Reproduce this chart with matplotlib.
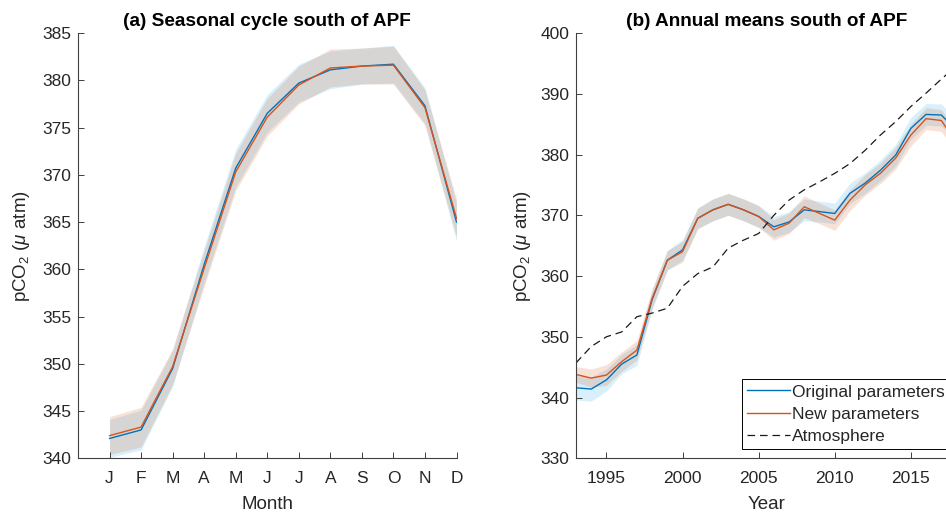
import matplotlib
matplotlib.use("Agg")
import matplotlib.pyplot as plt
import numpy as np

plt.rcParams['font.family'] = ['Liberation Sans', 'DejaVu Sans']
plt.rcParams['mathtext.fontset'] = 'custom'
plt.rcParams['mathtext.rm'] = 'Liberation Sans'
plt.rcParams['mathtext.it'] = 'Liberation Sans:italic'
plt.rcParams['lines.scale_dashes'] = False

# ---- Data: seasonal cycle ----
months = [1, 2, 3, 4, 5, 6, 7, 8, 9, 10, 11, 12]
month_labels = ['J', 'F', 'M', 'A', 'M', 'J', 'J', 'A', 'S', 'O', 'N', 'D']
seas_orig = [342.1, 343.0, 349.5, 360.5, 370.7, 376.5, 379.7, 381.1, 381.5, 381.7, 377.3, 365.0]
seas_orig_sd = [2.0, 2.1, 1.9, 1.9, 2.0, 2.0, 2.0, 2.0, 1.9, 2.0, 1.9, 2.0]
seas_new = [342.4, 343.3, 349.7, 360.1, 370.3, 376.1, 379.5, 381.3, 381.5, 381.6, 377.1, 365.4]
seas_new_sd = [2.0, 2.1, 1.9, 1.9, 2.0, 2.0, 2.0, 2.0, 1.9, 2.0, 1.9, 2.0]

# ---- Data: annual means ----
years = list(range(1993, 2019))
ann_orig = [341.6, 341.4, 342.9, 345.5, 347.0, 356.1, 362.6, 364.3, 369.5, 370.9,
            371.8, 370.9, 369.8, 368.1, 368.9, 370.9, 370.6, 370.3, 373.6, 375.3,
            377.4, 379.9, 384.3, 386.6, 386.5, 384.0]
ann_orig_sd = [2.0, 2.0, 1.8, 1.6, 1.7, 1.6, 1.6, 1.7, 1.7, 1.8,
               1.8, 1.8, 1.8, 1.7, 1.7, 1.8, 1.7, 1.7, 1.7, 1.7,
               1.7, 1.8, 1.8, 1.8, 1.8, 1.8]
ann_new = [343.8, 343.2, 343.7, 345.9, 347.8, 356.3, 362.6, 364.0, 369.5, 370.9,
           371.8, 370.9, 369.8, 367.6, 368.7, 371.4, 370.3, 369.2, 372.5, 375.0,
           376.9, 379.4, 383.2, 385.9, 385.6, 382.0]
ann_new_sd = [1.3, 1.5, 1.7, 1.6, 1.6, 1.6, 1.6, 1.7, 1.7, 1.8,
              1.8, 1.8, 1.8, 1.7, 1.7, 1.8, 1.7, 1.7, 1.7, 1.7,
              1.7, 1.8, 1.8, 1.8, 1.8, 1.8]
atmos = [345.7, 348.4, 350.0, 350.8, 353.3, 353.9, 354.7, 358.3, 360.4, 361.5,
         364.6, 365.9, 367.0, 370.0, 372.5, 374.2, 375.5, 376.9, 378.5, 380.7,
         383.2, 385.4, 387.9, 390.1, 392.4, 394.6]

BLUE = '#0072BD'
ORANGE = '#D95319'
FILL_BLUE = '#4DBEEE'
AXC = '#404040'
TXT = '#262626'
TICK_FS = 12.5
LABEL_FS = 13.5
TITLE_FS = 13.7

fig = plt.figure(figsize=(9.46, 5.12), dpi=100)
ax1 = fig.add_axes([78 / 946, 53.7 / 512, 378.5 / 946, 425.3 / 512])
ax2 = fig.add_axes([576 / 946, 53.7 / 512, 380.5 / 946, 425.3 / 512])


def style(ax):
    for s in ['top', 'right']:
        ax.spines[s].set_visible(False)
    for s in ['left', 'bottom']:
        ax.spines[s].set_color(AXC)
        ax.spines[s].set_linewidth(0.8)
    ax.tick_params(direction='in', length=4, width=0.7, color=AXC,
                   labelcolor=TXT, labelsize=TICK_FS)
    ax.tick_params(axis='x', pad=9)
    ax.tick_params(axis='y', pad=5)


def band(ax, x, y, sd, color, alpha):
    y = np.asarray(y)
    sd = np.asarray(sd)
    ax.fill_between(x, y - sd, y + sd, color=color, alpha=alpha, linewidth=0)


# Left panel
band(ax1, months, seas_orig, seas_orig_sd, FILL_BLUE, 0.22)
band(ax1, months, seas_new, seas_new_sd, ORANGE, 0.17)
ax1.plot(months, seas_orig, color=BLUE, lw=1.0)
ax1.plot(months, seas_new, color=ORANGE, lw=1.0)
ax1.set_xlim(0, 12)
ax1.set_ylim(340, 385)
ax1.set_xticks(months)
ax1.set_xticklabels(month_labels)
ax1.set_yticks(np.arange(340, 386, 5))
style(ax1)
ax1.set_xlabel('Month', fontsize=LABEL_FS, color=TXT, labelpad=7)
ax1.set_ylabel(r'pCO$_2$ ($\mu$ atm)', fontsize=LABEL_FS, color=TXT, labelpad=7)
ax1.set_title('(a) Seasonal cycle south of APF', fontsize=TITLE_FS, fontweight='bold',
              color='black', pad=5)

# Right panel
band(ax2, years, ann_orig, ann_orig_sd, FILL_BLUE, 0.22)
band(ax2, years, ann_new, ann_new_sd, ORANGE, 0.17)
l1, = ax2.plot(years, ann_orig, color=BLUE, lw=1.0, label='Original parameters')
l2, = ax2.plot(years, ann_new, color=ORANGE, lw=1.0, label='New parameters')
l3, = ax2.plot(years, atmos, color='#1a1a1a', lw=0.9, dashes=(5.5, 3.5), label='Atmosphere')
ax2.set_xlim(1993, 2018)
ax2.set_ylim(330, 400)
ax2.set_xticks([1995, 2000, 2005, 2010, 2015])
ax2.set_yticks(np.arange(330, 401, 10))
style(ax2)
ax2.set_xlabel('Year', fontsize=LABEL_FS, color=TXT, labelpad=7)
ax2.set_ylabel(r'pCO$_2$ ($\mu$ atm)', fontsize=LABEL_FS, color=TXT, labelpad=5)
ax2.set_title('(b) Annual means south of APF', fontsize=TITLE_FS, fontweight='bold',
              color='black', pad=5)
leg = ax2.legend(handles=[l1, l2, l3], loc='lower right',
                 bbox_to_anchor=(0.983, 0.022), fontsize=12.5, frameon=True,
                 fancybox=False, framealpha=1, edgecolor='black',
                 handlelength=2.5, handletextpad=0.1, labelspacing=0.4,
                 borderpad=0.3, borderaxespad=0)
leg.get_frame().set_linewidth(0.7)
for t in leg.get_texts():
    t.set_color(TXT)

fig.savefig('out.png', dpi=100)
